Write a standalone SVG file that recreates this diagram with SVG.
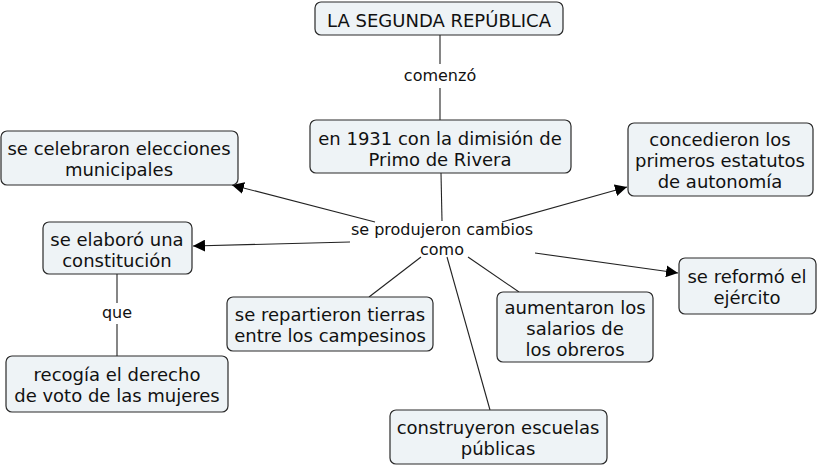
<svg xmlns="http://www.w3.org/2000/svg" width="818" height="467" viewBox="0 0 818 467">
<style>
.n rect{fill:#eef3f6;stroke:#2a2a2a;stroke-width:1.2}
text{font-family:"DejaVu Sans","Liberation Sans",sans-serif;fill:#111;text-anchor:middle}
.n text{font-size:18px}
.l text{font-size:16px}
.c line{stroke:#222;stroke-width:1.1}
</style>
<defs>
<marker id="a" viewBox="0 0 10 10" refX="10" refY="5" markerWidth="12" markerHeight="12" markerUnits="userSpaceOnUse" orient="auto">
<path d="M0,0 L10,5 L0,10 z" fill="#000"/>
</marker>
</defs>
<rect width="818" height="467" fill="#fff"/>
<g id="connectors" class="c">
<line x1="440" y1="35" x2="440" y2="64"/>
<line x1="440" y1="88" x2="440" y2="120"/>
<line x1="441" y1="173" x2="442" y2="221"/>
<line x1="375" y1="222" x2="232" y2="185" marker-end="url(#a)"/>
<line x1="350" y1="242" x2="193" y2="246" marker-end="url(#a)"/>
<line x1="502" y1="222" x2="627" y2="187" marker-end="url(#a)"/>
<line x1="535" y1="253" x2="678" y2="273" marker-end="url(#a)"/>
<line x1="421" y1="257" x2="369" y2="297"/>
<line x1="468" y1="257" x2="519" y2="292"/>
<line x1="447" y1="257" x2="490" y2="410"/>
<line x1="117" y1="274" x2="117" y2="303"/>
<line x1="117" y1="324" x2="117" y2="356"/>
</g>
<g id="lbl-comenzo" class="l"><text x="440" y="81">comenzó</text></g>
<g id="lbl-cambios" class="l"><text x="442" y="235">se produjeron cambios</text><text x="442" y="255">como</text></g>
<g id="lbl-que" class="l"><text x="117" y="318">que</text></g>
<g id="n-republica" class="n"><rect x="315" y="2" width="248" height="33" rx="6"/><text x="439" y="27">LA SEGUNDA REPÚBLICA</text></g>
<g id="n-1931" class="n"><rect x="310" y="120" width="261" height="53" rx="6"/><text x="440" y="145">en 1931 con la dimisión de</text><text x="440" y="166">Primo de Rivera</text></g>
<g id="n-elecciones" class="n"><rect x="1" y="131" width="237" height="54" rx="6"/><text x="119" y="155">se celebraron elecciones</text><text x="119" y="176">municipales</text></g>
<g id="n-constitucion" class="n"><rect x="43" y="222" width="149" height="52" rx="6"/><text x="117" y="246">se elaboró una</text><text x="117" y="267">constitución</text></g>
<g id="n-estatutos" class="n"><rect x="628" y="123" width="185" height="73" rx="6"/><text x="720" y="146">concedieron los</text><text x="720" y="167">primeros estatutos</text><text x="720" y="188">de autonomía</text></g>
<g id="n-ejercito" class="n"><rect x="679" y="258" width="137" height="56" rx="6"/><text x="747" y="283">se reformó el</text><text x="747" y="304">ejército</text></g>
<g id="n-voto" class="n"><rect x="6" y="356" width="222" height="56" rx="6"/><text x="117" y="381">recogía el derecho</text><text x="117" y="402">de voto de las mujeres</text></g>
<g id="n-tierras" class="n"><rect x="227" y="297" width="206" height="54" rx="6"/><text x="330" y="321">se repartieron tierras</text><text x="330" y="342">entre los campesinos</text></g>
<g id="n-salarios" class="n"><rect x="497" y="292" width="156" height="70" rx="6"/><text x="575" y="314">aumentaron los</text><text x="575" y="335">salarios de</text><text x="575" y="356">los obreros</text></g>
<g id="n-escuelas" class="n"><rect x="390" y="410" width="217" height="54" rx="6"/><text x="498" y="434">construyeron escuelas</text><text x="498" y="455">públicas</text></g>
</svg>
